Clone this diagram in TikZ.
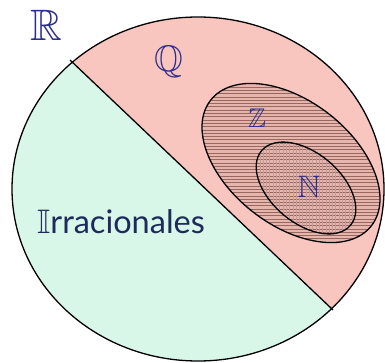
\documentclass[tikz,border=0pt]{standalone}
\usepackage{fontspec}
\newfontfamily\irrfont{Lato}
\font\bbR=msbm10 at 44pt
\font\bbQ=msbm10 at 37pt
\font\bbZ=msbm10 at 27pt
\font\bbN=msbm10 at 31pt
\font\bbI=msbm10 at 34pt
\definecolor{Salmon}{HTML}{F8C6BE}
\definecolor{Mint}{HTML}{D8F7E8}
\definecolor{Ink}{HTML}{2E2E8C}
\definecolor{Navy}{HTML}{1E2A5C}
\definecolor{Shade}{HTML}{E4B6AE}
\definecolor{Hatch}{HTML}{9A665E}
\definecolor{Grain}{HTML}{C69C98}

\begin{document}
\begin{tikzpicture}[x=1pt,y=1pt,
edge/.style={draw=black,line width=1.3pt},
hatch/.style={draw=Hatch,line width=.7pt},
setlabel/.style={text=Ink,inner sep=0pt,anchor=base}]
\useasboundingbox (0,0) rectangle (385,362);
\coordinate (center) at (198,173);
\coordinate (cutA) at (70,302);
\coordinate (cutB) at (333,52);
% R split in two
\begin{scope}
\clip (center) ellipse [x radius=186,y radius=172];
\fill[Mint] (0,0) rectangle (400,400);
\fill[Salmon] (0,368.5) -- (400,-11.7) -- (400,400) -- (0,400) -- cycle;
\end{scope}
% Z, striped
\fill[Shade,rotate around={-38:(291,199)}] (291,199) ellipse [x radius=102,y radius=62];
\begin{scope}
\clip[rotate around={-38:(291,199)}] (291,199) ellipse [x radius=102,y radius=62];
\foreach \y in {110,113.3,...,290} \draw[hatch] (180,\y) -- (390,\y);
\end{scope}
% N, cross grain
\begin{scope}
\clip[rotate around={-40:(306,174)}] (306,174) ellipse [x radius=58,y radius=35];
\foreach \x in {240,243.3,...,370} \draw[draw=Grain,line width=.5pt] (\x,120) -- (\x,230);
\end{scope}
\draw[edge] (center) ellipse [x radius=186,y radius=172];
\draw[edge] (cutA) -- (cutB);
\draw[edge,rotate around={-38:(291,199)}] (291,199) ellipse [x radius=102,y radius=62];
\draw[edge,rotate around={-40:(306,174)}] (306,174) ellipse [x radius=58,y radius=35];
% labels
\node[setlabel] (reals) at (46,321) {\bbR R};
\node[setlabel] (rationals) at (169,290) {\bbQ Q};
\node[setlabel] (integers) at (257,234) {\bbZ Z};
\node[setlabel] (naturals) at (309,165) {\bbN N};
\node[setlabel,anchor=base west,text=Navy] (irrationals) at (37,129) {{\bbI I}\irrfont\fontsize{32.5}{32.5}\selectfont rracionales};
\end{tikzpicture}
\end{document}
